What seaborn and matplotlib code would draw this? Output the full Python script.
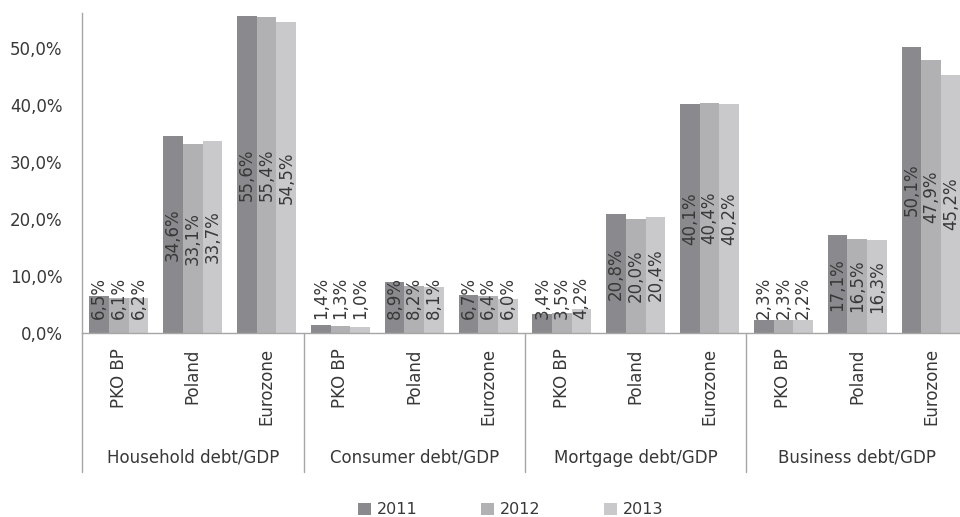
import numpy as np
import pandas as pd
import seaborn as sns
import matplotlib.pyplot as plt
from matplotlib.transforms import blended_transform_factory

# Data (percent of GDP)
groups = ["Household debt/GDP", "Consumer debt/GDP", "Mortgage debt/GDP", "Business debt/GDP"]
entities = ["PKO BP", "Poland", "Eurozone"]
years = ["2011", "2012", "2013"]
y2011 = [6.5, 34.6, 55.6, 1.4, 8.9, 6.7, 3.4, 20.8, 40.1, 2.3, 17.1, 50.1]
y2012 = [6.1, 33.1, 55.4, 1.3, 8.2, 6.4, 3.5, 20.0, 40.4, 2.3, 16.5, 47.9]
y2013 = [6.2, 33.7, 54.5, 1.0, 8.1, 6.0, 4.2, 20.4, 40.2, 2.2, 16.3, 45.2]
colors = ["#8a8a8e", "#b1b1b4", "#c9c9cc"]

# Long table for seaborn
keys = [g + "|" + e for g in groups for e in entities]
rows = []
for year, vals in zip(years, [y2011, y2012, y2013]):
    for k, v in zip(keys, vals):
        rows.append({"key": k, "year": year, "value": v})
df = pd.DataFrame(rows)

sns.set_style("white")
plt.rcParams["font.family"] = ["DejaVu Sans"]
text_col = "#383838"
line_col = "#a6a6a6"

fig = plt.figure(figsize=(9.6, 5.17), dpi=100)
ax = fig.add_axes([82 / 960, 184 / 517, 886 / 960, 320 / 517])

sns.barplot(data=df, x="key", y="value", hue="year", order=keys, hue_order=years,
            palette=colors, width=0.8, gap=0, linewidth=0, saturation=1, ax=ax)

ax.set_ylim(0, 56.1)
ax.set_xlim(-0.5, len(keys) - 0.5)
ax.set_yticks(np.arange(0, 51, 10))
ax.set_yticklabels([f"{t:.1f}%".replace(".", ",") for t in np.arange(0, 51, 10)],
                   fontsize=12, color=text_col)
ax.set_xticks(range(len(keys)))
ax.set_xticklabels([k.split("|")[1] for k in keys], rotation=90, fontsize=12, color=text_col)
ax.tick_params(axis="x", length=0, pad=11)
ax.tick_params(axis="y", length=0, pad=14)
ax.set_xlabel("")
ax.set_ylabel("")

for side in ["top", "right"]:
    ax.spines[side].set_visible(False)
for side in ["left", "bottom"]:
    ax.spines[side].set_color(line_col)
    ax.spines[side].set_linewidth(1)

# value labels, rotated, centred in the bar (kept off the axis for short bars)
for cont in ax.containers:
    for p in cont.patches:
        h = p.get_height()
        yc = max(h / 2, 6.1)
        ax.text(p.get_x() + p.get_width() / 2, yc, f"{h:.1f}%".replace(".", ","),
                rotation=90, ha="center", va="center", fontsize=12, color=text_col)

# group separators and group labels below the axis
trans = blended_transform_factory(ax.transData, ax.transAxes)
for i in range(len(groups) + 1):
    x = i * len(entities) - 0.5
    ax.plot([x, x], [0, -0.434], transform=trans, color=line_col, lw=1, clip_on=False)
for i, g in enumerate(groups):
    xc = i * len(entities) + (len(entities) - 1) / 2
    ax.text(xc, -0.39, g, transform=trans, ha="center", va="center",
            fontsize=12, color=text_col)

# legend at the bottom
handles, labels = ax.get_legend_handles_labels()
ax.get_legend().remove()
fig.legend(handles, labels, loc="center", bbox_to_anchor=(0.532, 0.014), ncol=3,
           frameon=False, fontsize=11.5, labelcolor=text_col, handlelength=0.8,
           handleheight=0.8, handletextpad=0.35, columnspacing=4.0)

fig.savefig("out.png", dpi=100)
